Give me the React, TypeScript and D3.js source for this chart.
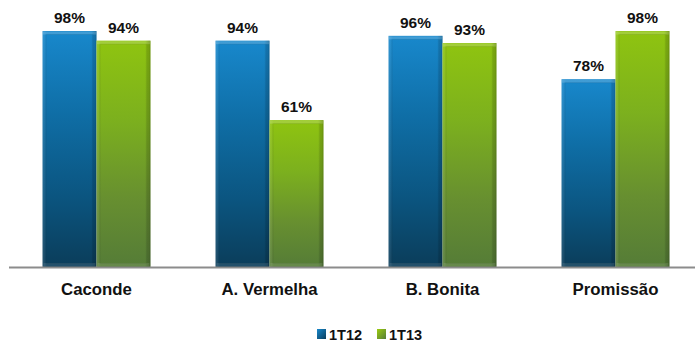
import React from "react";
import * as d3 from "d3";

const categories = ["Caconde", "A. Vermelha", "B. Bonita", "Promissão"];
const series1T12 = [98, 94, 96, 78];
const series1T13 = [94, 61, 93, 98];
const seriesNames = ["1T12", "1T13"];

const W = 695;
const H = 343;
const baseY = 267;
const font = "Arial, 'Liberation Sans', sans-serif";

export default function App() {
  const x0 = d3
    .scaleBand<string>()
    .domain(categories)
    .range([10, 702])
    .paddingInner(0.376)
    .paddingOuter(0.188);
  const x1 = d3
    .scaleBand<string>()
    .domain(seriesNames)
    .range([0, x0.bandwidth()]);
  const y = d3.scaleLinear().domain([0, 100]).range([baseY, baseY - 240.8]);

  const gradIds = ["gBlue", "gGreen"];
  const values = [series1T12, series1T13];

  return (
    <svg
      width={W}
      height={H}
      style={{ position: "absolute", left: 0, top: 0, background: "#fff" }}
    >
      <defs>
        <linearGradient id="gBlue" x1="0" y1="0" x2="0" y2="1">
          <stop offset="0" stopColor="#1888cc" />
          <stop offset="0.35" stopColor="#0f6ea6" />
          <stop offset="0.7" stopColor="#0b5580" />
          <stop offset="1" stopColor="#0b3d5a" />
        </linearGradient>
        <linearGradient id="gGreen" x1="0" y1="0" x2="0" y2="1">
          <stop offset="0" stopColor="#8fc410" />
          <stop offset="0.35" stopColor="#7cb01e" />
          <stop offset="0.7" stopColor="#678f30" />
          <stop offset="1" stopColor="#557c37" />
        </linearGradient>
        <linearGradient id="edgeH" x1="0" y1="0" x2="1" y2="0">
          <stop offset="0" stopColor="#fff" stopOpacity="0.12" />
          <stop offset="0.08" stopColor="#fff" stopOpacity="0" />
          <stop offset="0.9" stopColor="#000" stopOpacity="0" />
          <stop offset="1" stopColor="#000" stopOpacity="0.25" />
        </linearGradient>
        <linearGradient id="legBlue" x1="0" y1="0" x2="1" y2="1">
          <stop offset="0" stopColor="#1888cc" />
          <stop offset="1" stopColor="#0b3d5a" />
        </linearGradient>
        <linearGradient id="legGreen" x1="0" y1="0" x2="1" y2="1">
          <stop offset="0" stopColor="#9ccc10" />
          <stop offset="1" stopColor="#557c37" />
        </linearGradient>
      </defs>

      {categories.map((c, ci) => (
        <g key={c} transform={`translate(${x0(c)},0)`}>
          {seriesNames.map((s, si) => {
            const v = values[si][ci];
            const bx = x1(s)!;
            const bw = x1.bandwidth();
            const top = y(v);
            const h = baseY - top;
            return (
              <g key={s}>
                <rect x={bx} y={top} width={bw} height={h} fill={`url(#${gradIds[si]})`} />
                <rect x={bx} y={top} width={bw} height={h} fill="url(#edgeH)" />
                <rect
                  x={bx + 0.5}
                  y={top + 0.5}
                  width={bw - 1}
                  height={3}
                  fill="#fff"
                  opacity={0.18}
                />
                <rect
                  x={bx + 3.5}
                  y={top + 3.5}
                  width={bw - 7}
                  height={h - 7}
                  fill="none"
                  stroke="#000"
                  strokeOpacity={0.08}
                />
                <rect
                  x={bx + 1}
                  y={baseY - 4}
                  width={bw - 2}
                  height={3}
                  fill="#fff"
                  opacity={0.1}
                />
                <text
                  x={bx + bw / 2}
                  y={top - 8}
                  textAnchor="middle"
                  fontFamily={font}
                  fontWeight="bold"
                  fontSize={15.5}
                  fill="#111"
                >
                  {`${v}%`}
                </text>
              </g>
            );
          })}
          <text
            x={x0.bandwidth() / 2}
            y={295}
            textAnchor="middle"
            fontFamily={font}
            fontWeight="bold"
            fontSize={16.8}
            fill="#111"
          >
            {c}
          </text>
        </g>
      ))}

      <line x1={9} x2={695} y1={baseY + 0.5} y2={baseY + 0.5} stroke="#8c8c8c" strokeWidth={2} />

      {seriesNames.map((s, i) => {
        const lx = 317 + i * 60;
        return (
          <g key={s}>
            <rect x={lx} y={329} width={9} height={10} fill={i === 0 ? "url(#legBlue)" : "url(#legGreen)"} />
            <text
              x={lx + 12}
              y={339.5}
              fontFamily={font}
              fontWeight="bold"
              fontSize={14.5}
              fill="#111"
            >
              {s}
            </text>
          </g>
        );
      })}
    </svg>
  );
}
